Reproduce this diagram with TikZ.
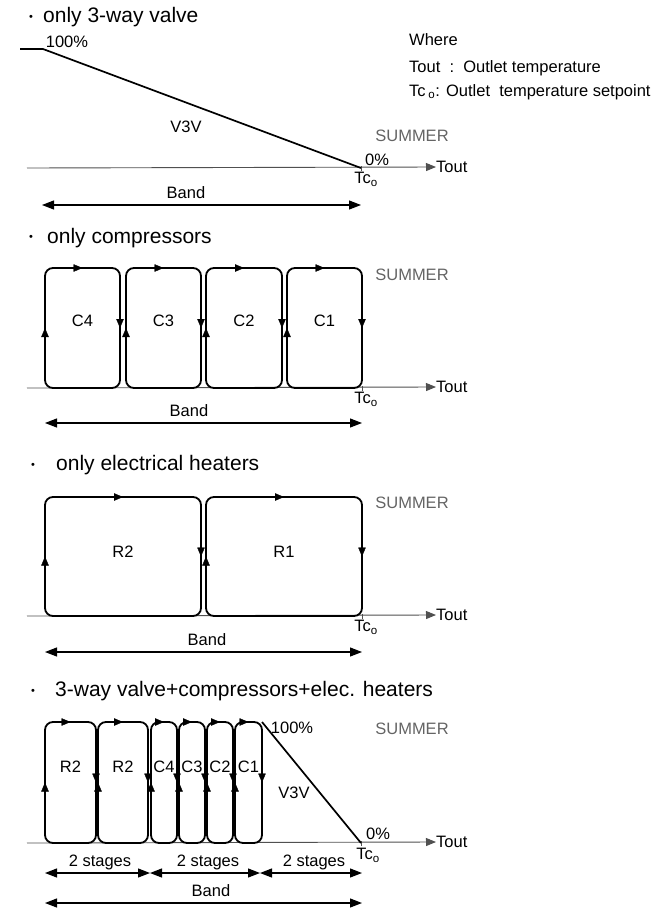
\documentclass[tikz,border=0pt]{standalone}
\usepackage{fontspec}
\setmainfont{Liberation Sans}
\usetikzlibrary{arrows.meta,decorations.markings}
\definecolor{axisGray}{RGB}{80,80,80}
\definecolor{seasonGray}{RGB}{100,100,100}

\begin{document}
\begin{tikzpicture}[
    x=1pt, y=-1pt,
    lbl/.style={font=\fontsize{16.5}{19}\selectfont, inner sep=0pt},
    title/.style={font=\fontsize{21}{25}\selectfont, anchor=west, inner sep=0pt},
    dot/.style={font=\fontsize{11}{11}\selectfont, inner sep=0pt},
    season/.style={lbl, text=seasonGray},
    axis/.style={draw=axisGray, line width=0.9pt, -{Triangle[length=10pt,width=8pt]}},
    tick/.style={draw=axisGray, line width=0.9pt},
    band/.style={line width=1.1pt, {Triangle[length=12pt,width=9pt]}-{Triangle[length=12pt,width=9pt]}},
    stagebox/.style={draw, line width=1.8pt, rounded corners=8pt},
    ramp/.style={draw, line width=1.7pt},
    flow/.style={decoration={markings, mark=at position 0.5 with {\arrow{Triangle[length=9pt,width=7.5pt]}}}, postaction=decorate}
]
  \useasboundingbox (0,0) rectangle (670,911);

  % only 3-way valve
  \node[dot] (b1) at (31,18) {•};
  \node[title] (t1) at (43,17) {only 3-way valve};
  \node[lbl, anchor=west] (where) at (409,40) {Where};
  \node[lbl, anchor=west] (leg1) at (409,68) {Tout\ \ :\ \ Outlet temperature};
  \node[lbl, anchor=west] (leg2) at (409,92) {Tc\,\textsubscript{o}: Outlet\ \ temperature setpoint};

  \coordinate (a1) at (27,168);
  \coordinate (tc1) at (361,168);
  \node[lbl, anchor=west] (tout1) at (436,167) {Tout};
  \draw[axis] (a1) -- (tout1.west);
  \draw[tick] (361,166) -- (361,171);
  \node[lbl, anchor=north] (tco1) at (366,172) {Tc\textsubscript{o}};
  \coordinate (p0) at (20,49);
  \coordinate (p100) at (43,49);
  \draw[ramp] (p0) -- (p100) -- (tc1);
  \node[lbl] (full1) at (67,42) {100\%};
  \node[lbl] (v3v1) at (186,127) {V3V};
  \node[lbl] (zero1) at (377,160) {0\%};
  \node[season] (sum1) at (412,136) {SUMMER};
  \coordinate (bl1) at (42,205);
  \coordinate (br1) at (361,205);
  \draw[band] (bl1) -- (br1);
  \node[lbl] (band1) at (186,193) {Band};

  % only compressors
  \node[dot] (b2) at (31,238) {•};
  \node[title] (t2) at (47,238) {only compressors};
  \coordinate (a2) at (27,388);
  \node[lbl, anchor=west] (tout2) at (436,387) {Tout};
  \draw[axis] (a2) -- (tout2.west);
  \draw[tick] (362,386) -- (362,391);
  \node[lbl, anchor=north] (tco2) at (366,392) {Tc\textsubscript{o}};
  \foreach \xa/\xb/\txt [count=\i] in {45/120/C4, 126/201/C3, 206/282/C2, 287/362/C1}{
    \draw[stagebox] (\xa,388) rectangle (\xb,268);
    \path[flow] (\xa,388) -- (\xa,268);
    \path[flow] (\xa,268) -- (\xb,268);
    \path[flow] (\xb,268) -- (\xb,388);
    \node[lbl] (comp\i) at ({(\xa+\xb)/2},321) {\txt};
  }
  \node[season] (sum2) at (412,275) {SUMMER};
  \coordinate (bl2) at (45,423);
  \coordinate (br2) at (362,423);
  \draw[band] (bl2) -- (br2);
  \node[lbl] (band2) at (189,411) {Band};

  % only electrical heaters
  \node[dot] (b3) at (33,466) {•};
  \node[title] (t3) at (56,465) {only electrical heaters};
  \coordinate (a3) at (27,616);
  \node[lbl, anchor=west] (tout3) at (436,615) {Tout};
  \draw[axis] (a3) -- (tout3.west);
  \draw[tick] (362,614) -- (362,619);
  \node[lbl, anchor=north] (tco3) at (366,620) {Tc\textsubscript{o}};
  \foreach \xa/\xb/\txt [count=\i] in {45/201/R2, 206/362/R1}{
    \draw[stagebox] (\xa,616) rectangle (\xb,497);
    \path[flow] (\xa,616) -- (\xa,497);
    \path[flow] (\xa,497) -- (\xb,497);
    \path[flow] (\xb,497) -- (\xb,616);
    \node[lbl] (heat\i) at ({(\xa+\xb)/2},552) {\txt};
  }
  \node[season] (sum3) at (412,503) {SUMMER};
  \coordinate (bl3) at (45,652);
  \coordinate (br3) at (362,652);
  \draw[band] (bl3) -- (br3);
  \node[lbl] (band3) at (207,640) {Band};

  % 3-way valve + compressors + heaters
  \node[dot] (b4) at (33,692) {•};
  \node[title] (t4) at (55,691) {3-way valve+compressors+elec. heaters};
  \coordinate (a4) at (27,843);
  \coordinate (tc4) at (361,843);
  \node[lbl, anchor=west] (tout4) at (436,842) {Tout};
  \draw[axis] (a4) -- (tout4.west);
  \draw[tick] (361,841) -- (361,846);
  \node[lbl, anchor=north] (tco4) at (368,848) {Tc\textsubscript{o}};
  \foreach \xa/\xb/\txt [count=\i] in {45/96/R2, 98/148/R2, 151/177/C4, 179/205/C3, 207/233/C2, 235/262/C1}{
    \draw[stagebox] (\xa,843) rectangle (\xb,722);
    \path[flow] (\xa,843) -- (\xa,722);
    \path[flow] (\xa,722) -- (\xb,722);
    \path[flow] (\xb,722) -- (\xb,843);
    \node[lbl] (mix\i) at ({(\xa+\xb)/2},767) {\txt};
  }
  \coordinate (p4) at (262,722);
  \draw[ramp] (p4) -- (tc4);
  \node[lbl] (full4) at (292,728) {100\%};
  \node[lbl] (v3v4) at (294,793) {V3V};
  \node[lbl] (zero4) at (378,834) {0\%};
  \node[season] (sum4) at (412,729) {SUMMER};
  \coordinate (s0) at (45,873);
  \coordinate (s1) at (150,873);
  \coordinate (s2) at (260,873);
  \coordinate (s3) at (362,873);
  \draw[band] (s0) -- (s1);
  \draw[band] (s1) -- (s2);
  \draw[band] (s2) -- (s3);
  \node[lbl] (stg1) at (100,862) {2 stages};
  \node[lbl] (stg2) at (208,862) {2 stages};
  \node[lbl] (stg3) at (314,862) {2 stages};
  \coordinate (bl4) at (45,903);
  \coordinate (br4) at (362,903);
  \draw[band] (bl4) -- (br4);
  \node[lbl] (band4) at (211,891) {Band};
\end{tikzpicture}
\end{document}
